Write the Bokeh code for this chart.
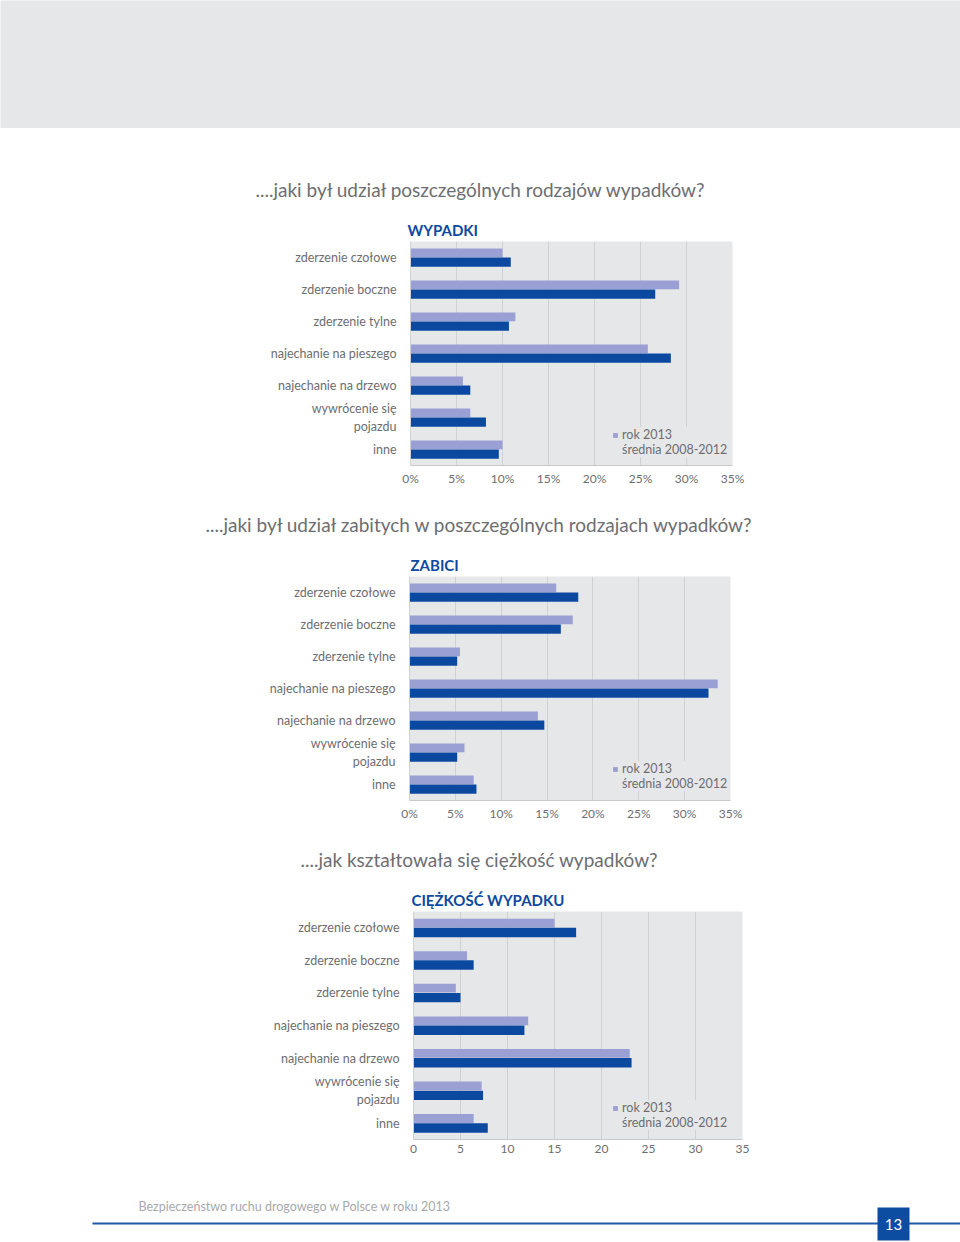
from bokeh.plotting import figure
from bokeh.models import (FactorRange, Range1d, FixedTicker, Label, Legend, LegendItem,
                          ColumnDataSource, Title)
from bokeh.layouts import column, row
from bokeh.transform import dodge
from bokeh.embed import file_html
from bokeh.resources import INLINE

# ---------------- data ----------------
categories = ["zderzenie czołowe", "zderzenie boczne", "zderzenie tylne",
              "najechanie na pieszego", "najechanie na drzewo",
              "wywrócenie się\npojazdu", "inne"]
wypadki_2013 = [10.0, 29.2, 11.4, 25.8, 5.7, 6.5, 10.0]
wypadki_avg = [10.9, 26.6, 10.7, 28.3, 6.5, 8.2, 9.6]
zabici_2013 = [16.0, 17.8, 5.5, 33.6, 14.0, 6.0, 7.0]
zabici_avg = [18.4, 16.5, 5.2, 32.6, 14.7, 5.2, 7.3]
ciezkosc_2013 = [15.0, 5.7, 4.5, 12.2, 23.0, 7.25, 6.4]
ciezkosc_avg = [17.3, 6.4, 5.0, 11.8, 23.2, 7.4, 7.9]
x_ticks = [0, 5, 10, 15, 20, 25, 30, 35]
pct_labels = ["0%", "5%", "10%", "15%", "20%", "25%", "30%", "35%"]
num_labels = ["0", "5", "10", "15", "20", "25", "30", "35"]
legend_labels = ["rok 2013", "średnia 2008-2012"]

FONT = "Lato"
GRAY_TXT = "#6d6e71"
LIGHT = "#9aa0d3"
DARK = "#0b48a0"
LEG_GREEN = "#3f8f3a"
PLOT_BG = "#e6e7e9"
GRID = "#d0d1d3"
BLUE_T = "#0d4aa0"


def make_chart(height, border_top, border_bottom, border_left, border_right, question, q_offset,
               subtitle, sub_offset, v2013, vavg, tick_labels, legend_loc):
    p = figure(width=960, height=height, output_backend="svg", toolbar_location=None,
               y_range=FactorRange(factors=list(reversed(categories)), range_padding=0),
               x_range=Range1d(0, 35),
               min_border_top=border_top, min_border_left=border_left,
               min_border_right=border_right, min_border_bottom=border_bottom)
    p.background_fill_color = PLOT_BG
    p.border_fill_color = "white"
    p.outline_line_color = None

    # question line (outer title)
    p.title.text = question
    p.title.align = "left"
    p.title.offset = q_offset
    p.title.standoff = 29
    p.title.text_font = FONT
    p.title.text_font_size = "19px"
    p.title.text_font_style = "normal"
    p.title.text_color = GRAY_TXT
    # subtitle, nearest to the frame
    p.add_layout(Title(text=subtitle, align="left", offset=sub_offset, standoff=6,
                       text_font=FONT, text_font_size="15px", text_font_style="bold",
                       text_color=BLUE_T), "above")

    src = ColumnDataSource(dict(cat=categories, a=v2013, b=vavg))
    r1 = p.hbar(y=dodge("cat", 0.145, range=p.y_range), right="a", left=0, height=0.27,
                source=src, fill_color=LIGHT, line_color=None)
    p.hbar(y=dodge("cat", -0.145, range=p.y_range), right="b", left=0, height=0.29,
           source=src, fill_color=DARK, line_color=None)
    dummy = p.hbar(y=[], right=[], height=0.28, fill_color=LEG_GREEN, line_color=None)

    legend = Legend(items=[LegendItem(label=legend_labels[0], renderers=[r1]),
                           LegendItem(label=legend_labels[1], renderers=[dummy])],
                    location=legend_loc, margin=0, padding=6, spacing=0,
                    glyph_width=6, glyph_height=6, label_height=14, label_standoff=4,
                    label_text_font=FONT, label_text_font_size="12.5px",
                    label_text_color=GRAY_TXT, background_fill_color=PLOT_BG,
                    background_fill_alpha=1.0, border_line_color=None)
    p.add_layout(legend, "center")

    p.xgrid.grid_line_color = GRID
    p.xgrid.ticker = FixedTicker(ticks=x_ticks)
    p.ygrid.grid_line_color = None

    xa = p.xaxis[0]
    xa.ticker = FixedTicker(ticks=x_ticks)
    xa.major_label_overrides = {t: l for t, l in zip(x_ticks, tick_labels)}
    xa.major_tick_line_color = None
    xa.major_tick_out = 0
    xa.major_tick_in = 0
    xa.minor_tick_line_color = None
    xa.axis_line_color = "#c8c9cb"
    xa.major_label_standoff = 5
    xa.major_label_text_font = FONT
    xa.major_label_text_font_size = "12px"
    xa.major_label_text_color = GRAY_TXT

    ya = p.yaxis[0]
    ya.major_tick_line_color = None
    ya.major_tick_out = 0
    ya.major_tick_in = 0
    ya.axis_line_color = GRID
    ya.major_label_standoff = 14
    ya.major_label_text_font = FONT
    ya.major_label_text_font_size = "12.5px"
    ya.major_label_text_color = GRAY_TXT
    return p


header = figure(width=960, height=128, output_backend="svg", toolbar_location=None,
                x_axis_location=None, y_axis_location=None, min_border=0)
header.background_fill_color = "#e6e7e8"
header.border_fill_color = "#e6e7e8"
header.outline_line_color = None
header.grid.visible = False

c1 = make_chart(367, 113, 30, 410, 228, "....jaki był udział poszczególnych rodzajów wypadków?", -155,
                "WYPADKI", -3, wypadki_2013, wypadki_avg, pct_labels, (202, 8))
c2 = make_chart(335, 81, 30, 409, 230, "....jaki był udział zabitych w poszczególnych rodzajach wypadków?", -204,
                "ZABICI", 1, zabici_2013, zabici_avg, pct_labels, (203, 9))
c3 = make_chart(335, 81, 26, 413, 218, "....jak kształtowała się ciężkość wypadków?", -113,
                "CIĘŻKOŚĆ WYPADKU", -2, ciezkosc_2013, ciezkosc_avg, num_labels, (199, 9))

footer = figure(width=960, height=77, output_backend="svg", toolbar_location=None,
                x_axis_location=None, y_axis_location=None, min_border=0,
                x_range=Range1d(0, 960), y_range=Range1d(77, 0))
footer.background_fill_color = "white"
footer.border_fill_color = "white"
footer.outline_line_color = None
footer.grid.visible = False
footer.segment(x0=[92], y0=[58], x1=[960], y1=[58], line_color="#1f5aa6", line_width=2)
footer.quad(left=[877], right=[909], top=[42], bottom=[75], fill_color="#0c4da2", line_color=None)
footer.add_layout(Label(x=893, y=58.5, text="13", text_align="center", text_baseline="middle",
                        text_font=FONT, text_font_size="15px", text_color="white"))
footer.add_layout(Label(x=138, y=41, text="Bezpieczeństwo ruchu drogowego w Polsce w roku 2013",
                        text_align="left", text_baseline="middle", text_font=FONT,
                        text_font_size="12.5px", text_color="#a7a9ac"))

layout = column(row(header), row(c1), row(c2), row(c3), row(footer), spacing=0)
open("out.html", "w").write(file_html(layout, INLINE))
